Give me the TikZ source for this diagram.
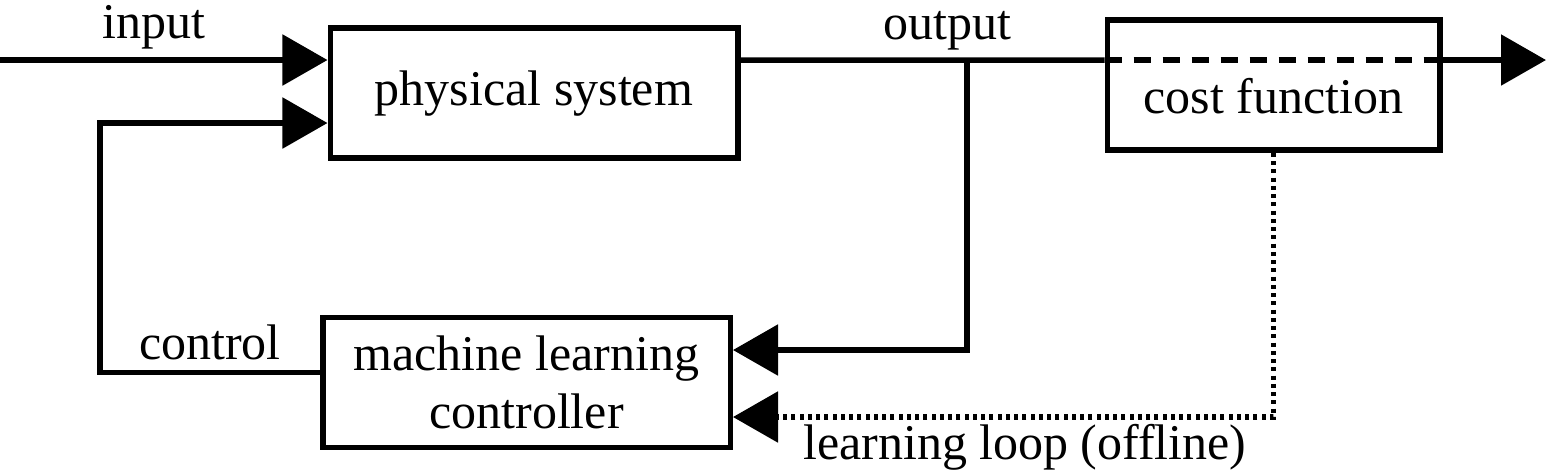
\documentclass[tikz,border=0pt]{standalone}
\usepackage{fontspec}
\setmainfont{Liberation Serif}
\usetikzlibrary{arrows.meta,positioning,calc}

\tikzset{
  block/.style={draw,rectangle,line width=1.1pt,minimum width=81.5pt,minimum height=26pt,
    align=center,font=\fontsize{10}{11.6}\selectfont},
  wire/.style={line width=1.1pt},
  sig/.style={wire,-{Triangle[length=9pt,width=10pt]}},
  lbl/.style={font=\fontsize{10}{12}\selectfont}
}

\begin{document}
\begin{tikzpicture}[x=0.2pt,y=-0.2pt]
\useasboundingbox (0,0) rectangle (1547,472);

% blocks
\node [block,text height=7pt,text depth=2.2pt] (phys) at (534,93) {physical system};
\node [block,minimum width=66.5pt,text height=11.2pt,text depth=0pt] (cost) at (1273.5,85) {cost function};
\node [block] (ml) at (526.5,382.5) {machine learning\\controller};

% input and control
\coordinate (src) at (0,60);
\draw [sig] (src) -- (src -| phys.west) node [lbl,above,inner sep=1.7pt,pos=0.47] (inlbl) {input};
\draw [sig] ([yshift=2pt]ml.west) -- ++(-44pt,0) node [lbl,above,inner sep=2pt,midway] (ctllbl) {control}
  |- ([yshift=-6pt]phys.west);

% output through the cost function
\coordinate (br) at (967,60);
\coordinate (sink) at (1546,60);
\draw [wire] ([yshift=6.6pt]phys.east) -- (br) -- (br -| cost.west);
\draw [wire,dash pattern=on 3.4pt off 2.4pt] (br -| cost.west) -- (br -| cost.east);
\draw [sig] (br -| cost.east) -- (sink);
\node [lbl,above,inner sep=1.7pt] (outlbl) at ([xshift=-4pt]br) {output};

% feedback
\draw [sig] (br) |- ([yshift=6.5pt]ml.east);
\draw [sig,dash pattern=on 0.8pt off 0.85pt] (cost.south) |- ([yshift=-6.9pt]ml.east)
  node [lbl,below,inner sep=1pt,pos=0.73] (looplbl) {learning loop (offline)};

\end{tikzpicture}
\end{document}
